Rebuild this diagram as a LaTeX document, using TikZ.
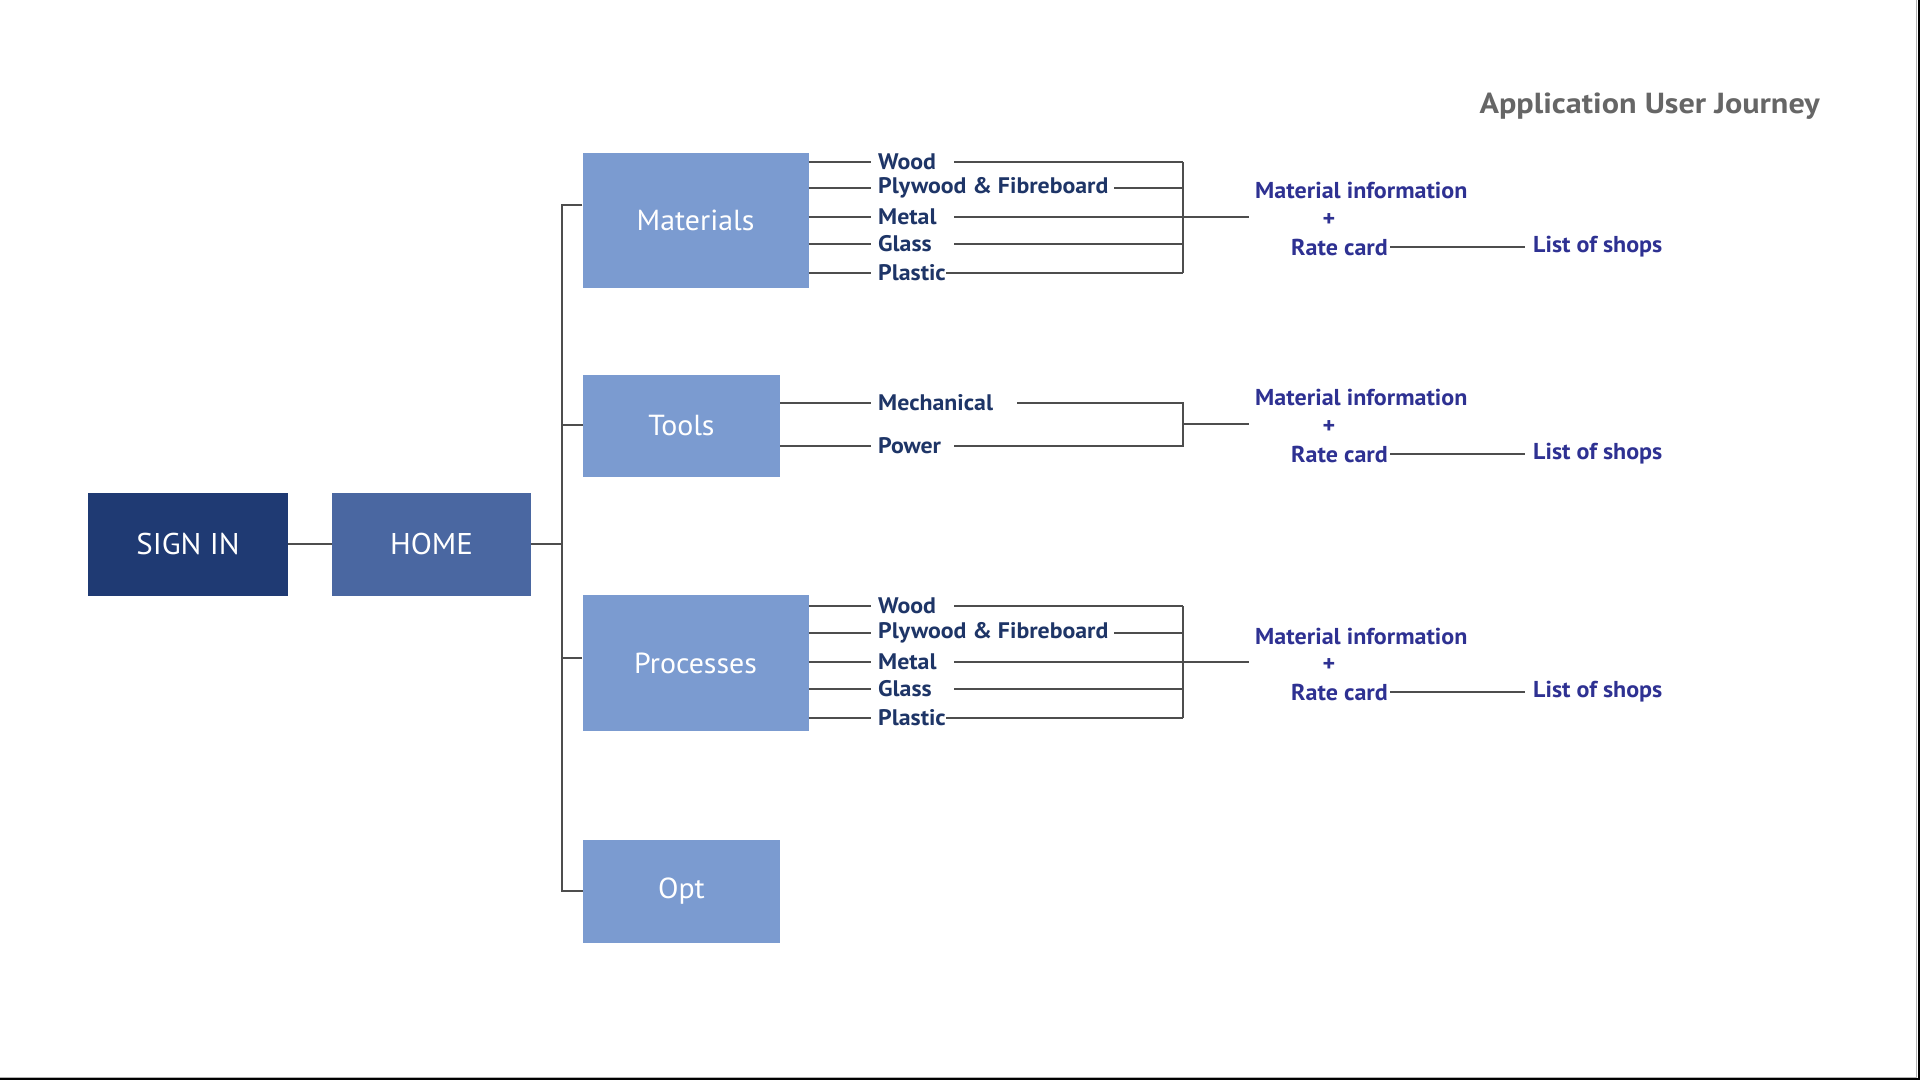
\documentclass[tikz,border=0pt]{standalone}
\usepackage{fontspec}
\setmainfont{PT Sans}
\newfontfamily\lblfont{PT Sans}[FakeStretch=1.06]
\newfontfamily\infofont{PT Sans}[FakeStretch=1.045]
\newfontfamily\titlefont{PT Sans}[FakeStretch=1.11]
\newfontfamily\boxfont{PT Sans}[FakeStretch=1.03]
\definecolor{navy}{HTML}{1F3A73}
\definecolor{midblue}{HTML}{4A67A1}
\definecolor{lightblue}{HTML}{7B9BD0}
\definecolor{lbltxt}{HTML}{1E3567}
\definecolor{infotxt}{HTML}{2E3192}
\definecolor{titlegray}{HTML}{666666}
\definecolor{linegray}{HTML}{4D4D4D}
\begin{document}
\begin{tikzpicture}[x=1pt,y=-1pt,
  box/.style={draw=none,inner sep=0pt,text=white,font=\boxfont\fontsize{29}{30}\selectfont,minimum width=#1},
  box/.default=197pt,
  lbl/.style={anchor=west,inner sep=0pt,text=lbltxt,font=\lblfont\fontsize{22.5}{23}\selectfont\bfseries},
  info/.style={inner sep=0pt,text=infotxt,font=\infofont\fontsize{23}{24}\selectfont\bfseries},
  conn/.style={draw=linegray,line width=1.4pt}]
\useasboundingbox (0,0) rectangle (1920,1080);
\fill[white] (0,0) rectangle (1920,1080);
% page edge
\draw[black,line width=2pt] (1918.5,0) -- (1918.5,1079) -- (0,1079);
\draw[gray!60,line width=1pt] (1916.5,0) -- (1916.5,1077) -- (0,1077);

% title
\node[inner sep=0pt,anchor=east,text=titlegray,font=\titlefont\fontsize{29}{31}\selectfont\bfseries] (title) at (1820,106) {Application User Journey};

% main boxes
\node[box=200pt,fill=navy,minimum height=103pt,font=\boxfont\fontsize{30}{31}\selectfont] (signin) at (188,544) {SIGN IN};
\node[box=199pt,fill=midblue,minimum height=103pt,font=\boxfont\fontsize{30}{31}\selectfont] (home) at (431.5,544) {HOME};
\node[box=226pt,fill=lightblue,minimum height=135pt] (mat) at (695.5,220.5) {Materials};
\node[box=197pt,fill=lightblue,minimum height=102pt] (tools) at (681.5,425.5) {Tools};
\node[box=226pt,fill=lightblue,minimum height=136pt] (proc) at (695.5,663) {Processes};
\node[box=197pt,fill=lightblue,minimum height=103pt] (opt) at (681.5,891.5) {Opt};

% trunk
\coordinate (tTop) at (562,205);
\coordinate (tMid) at (562,544);
\coordinate (tTools) at (562,425);
\coordinate (tProc) at (562,658);
\coordinate (tBot) at (562,891);
\draw[conn] (signin.east) -- (home.west);
\draw[conn] (home.east) -- (tMid);
\draw[conn] (mat.west |- tTop) -- (tTop) -- (tBot) -- (opt.west |- tBot);
\draw[conn] (tTools) -- (tools.west |- tTools);
\draw[conn] (tProc) -- (proc.west |- tProc);

% column coordinates
\coordinate (colA) at (954,0);
\coordinate (colB) at (1114,0);
\coordinate (colC) at (1017,0);
\coordinate (brk) at (1183,0);
\coordinate (outE) at (1249,0);

% ---- Materials branch
\node[lbl] (m1) at (878,162) {Wood};
\node[lbl] (m2) at (878,188) {Plywood \& Fibreboard};
\node[lbl] (m3) at (878,217) {Metal};
\node[lbl] (m4) at (878,244) {Glass};
\node[lbl] (m5) at (878,273) {Plastic};
\foreach \n in {m1,m2,m3,m4,m5}{
  \draw[conn] (mat.east |- \n.west) -- ([xshift=-7pt]\n.west);
}
\draw[conn] (m1.west -| colA) -- (m1.west -| brk);
\draw[conn] (m2.west -| colB) -- (m2.west -| brk);
\draw[conn] (m3.west -| colA) -- (m3.west -| outE);
\draw[conn] (m4.west -| colA) -- (m4.west -| brk);
\draw[conn] (m5.east) -- (m5.west -| brk);
\draw[conn] (m1.west -| brk) -- (m5.west -| brk);

\node[info,anchor=west] (i1) at (1255,190) {Material information};
\node[info] (p1) at (1329,220) {+};
\node[info,anchor=west] (r1) at (1291,247) {Rate card};
\node[info,anchor=west] (s1) at (1533,247) {List of shops};
\draw[conn] ([xshift=2pt]r1.east) -- ([xshift=-8pt]s1.west);

% ---- Tools branch
\node[lbl] (t1) at (878,403) {Mechanical};
\node[lbl] (t2) at (878,446) {Power};
\foreach \n in {t1,t2}{
  \draw[conn] (tools.east |- \n.west) -- ([xshift=-7pt]\n.west);
}
\coordinate (tb) at (1183,424);
\draw[conn] (t1.west -| colC) -- (t1.west -| brk) -- (t2.west -| brk) -- (t2.west -| colA);
\draw[conn] (tb) -- (tb -| outE);

\node[info,anchor=west] (i2) at (1255,397) {Material information};
\node[info] (p2) at (1329,427) {+};
\node[info,anchor=west] (r2) at (1291,454) {Rate card};
\node[info,anchor=west] (s2) at (1533,454) {List of shops};
\draw[conn] ([xshift=2pt]r2.east) -- ([xshift=-8pt]s2.west);

% ---- Processes branch
\node[lbl] (q1) at (878,606) {Wood};
\node[lbl] (q2) at (878,633) {Plywood \& Fibreboard};
\node[lbl] (q3) at (878,662) {Metal};
\node[lbl] (q4) at (878,689) {Glass};
\node[lbl] (q5) at (878,718) {Plastic};
\foreach \n in {q1,q2,q3,q4,q5}{
  \draw[conn] (proc.east |- \n.west) -- ([xshift=-7pt]\n.west);
}
\draw[conn] (q1.west -| colA) -- (q1.west -| brk);
\draw[conn] (q2.west -| colB) -- (q2.west -| brk);
\draw[conn] (q3.west -| colA) -- (q3.west -| outE);
\draw[conn] (q4.west -| colA) -- (q4.west -| brk);
\draw[conn] (q5.east) -- (q5.west -| brk);
\draw[conn] (q1.west -| brk) -- (q5.west -| brk);

\node[info,anchor=west] (i3) at (1255,636) {Material information};
\node[info] (p3) at (1329,665) {+};
\node[info,anchor=west] (r3) at (1291,692) {Rate card};
\node[info,anchor=west] (s3) at (1533,692) {List of shops};
\draw[conn] ([xshift=2pt]r3.east) -- ([xshift=-8pt]s3.west);
\end{tikzpicture}
\end{document}
